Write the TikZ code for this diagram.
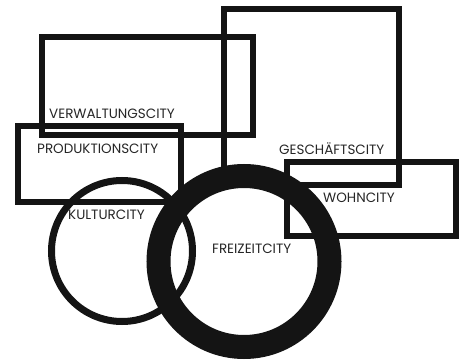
\documentclass[tikz,border=0pt]{standalone}
\usepackage{fontspec}
\setmainfont{Poppins}
\begin{document}
\begin{tikzpicture}[x=1pt,y=-1pt,
  frame/.style={draw=black!92,line width=6pt},
  ring/.style={draw=black!92,line width=7pt},
  bigring/.style={draw=black!92,line width=24pt},
  lbl/.style={inner sep=0pt,anchor=base west,text=black!85,font=\fontsize{13.5}{14}\selectfont}]
\useasboundingbox (0,0) rectangle (463,363);
% rectangles
\draw[frame] (41.5,37) rectangle (253,135);   % Verwaltung
\draw[frame] (18,126) rectangle (181,202);    % Produktion
\draw[frame] (224,9) rectangle (399,185);     % Geschaeft
\draw[frame] (287,162) rectangle (456,236);   % Wohn
% circles
\draw[ring] (122,251) circle[radius=70.5];    % Kultur
\draw[bigring] (244,261.5) circle[radius=85.5]; % Freizeit
% labels
\node[lbl] (verw) at (49,118.3) {VERWALTUNGSCITY};
\node[lbl] (prod) at (37,154) {PRODUKTIONSCITY};
\node[lbl] (gesch) at (279,154.3) {GESCHÄFTSCITY};
\node[lbl] (wohn) at (323,202.7) {WOHNCITY};
\node[lbl] (kult) at (68,220) {KULTURCITY};
\node[lbl] (frei) at (212,253.3) {FREIZEITCITY};
\end{tikzpicture}
\end{document}
